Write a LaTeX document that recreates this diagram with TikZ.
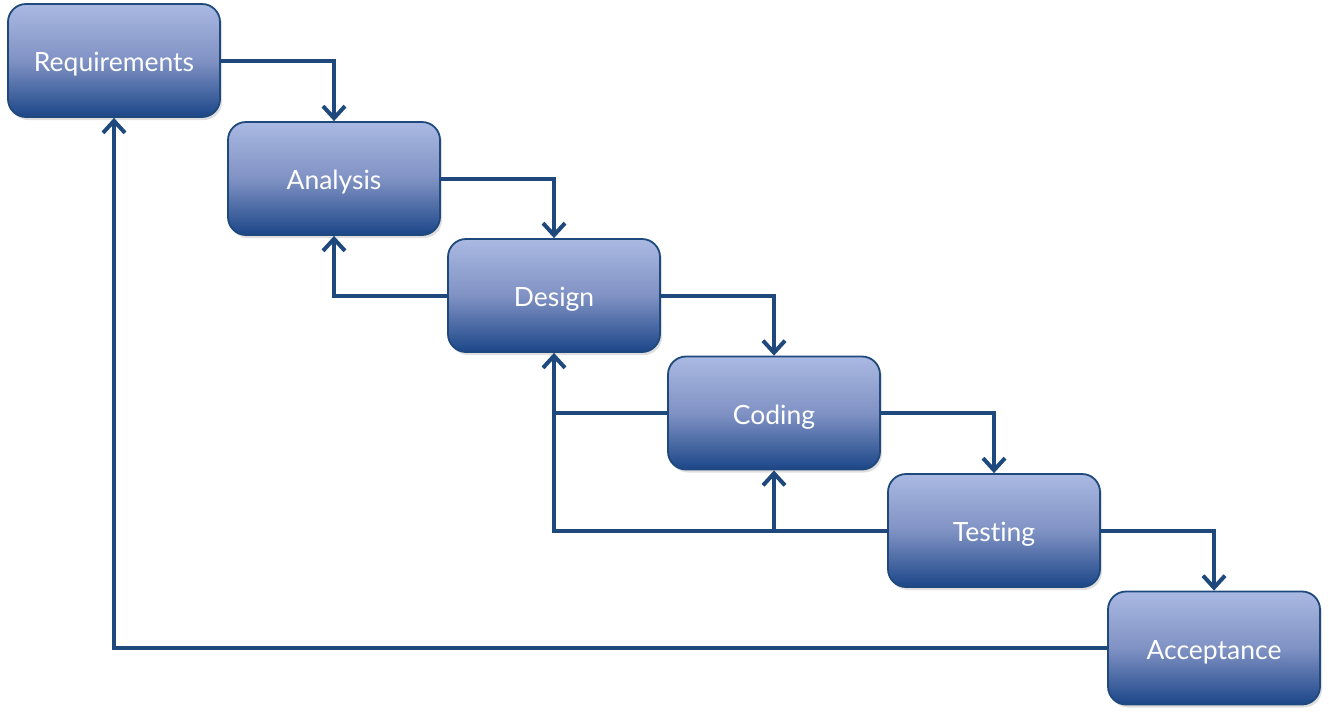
\documentclass[tikz,border=0pt]{standalone}
\usepackage{fontspec}
\setmainfont{Lato}[Ligatures=NoCommon]
\usetikzlibrary{arrows.meta,shadows}
\definecolor{linec}{RGB}{31,73,125}
\definecolor{topc}{RGB}{170,185,226}
\definecolor{midc}{RGB}{128,146,196}
\definecolor{botc}{RGB}{28,70,136}
\newcommand{\phlabel}[1]{\raisebox{-11pt}[0pt][0pt]{#1}}
\tikzset{
  phase/.style={draw=linec, line width=1.8pt, rounded corners=18pt,
    minimum width=212pt, minimum height=113pt, inner sep=0pt,
    top color=topc, bottom color=botc, middle color=midc,
    text=white, font=\fontsize{26.5}{30}\selectfont,
    drop shadow={shadow xshift=2pt, shadow yshift=-3pt, opacity=0.25}},
  flow/.style={draw=linec, line width=4pt,
    -{Straight Barb[length=12pt,width=22pt,line width=4pt]}},
  plain/.style={draw=linec, line width=4pt}
}
\begin{document}
\begin{tikzpicture}[x=1pt,y=-1pt]
\useasboundingbox (0,0) rectangle (1329,716);
\node[phase] (req) at (114,60.5) {\phlabel{Requirements}};
\node[phase] (ana) at (334,178.5) {\phlabel{Analysis}};
\node[phase] (des) at (554,295.5) {\phlabel{Design}};
\node[phase] (cod) at (774,413) {\phlabel{Coding}};
\node[phase] (tst) at (994,530.5) {\phlabel{Testing}};
\node[phase] (acc) at (1214,648) {\phlabel{Acceptance}};
% forward
\draw[flow] (req.east) -| (ana.north);
\draw[flow] (ana.east) -| (des.north);
\draw[flow] (des.east) -| (cod.north);
\draw[flow] (cod.east) -| (tst.north);
\draw[flow] (tst.east) -| (acc.north);
% feedback
\draw[flow] (des.west) -| (ana.south);
\draw[flow] (cod.west) -| (des.south);
\draw[flow] (tst.west) -| (cod.south);
\coordinate (j) at (des.south |- tst.west);
\draw[plain] (cod.south |- tst.west) -- (j) -- (des.south |- cod.west);
\draw[flow] (acc.west) -| (req.south);
\end{tikzpicture}
\end{document}
